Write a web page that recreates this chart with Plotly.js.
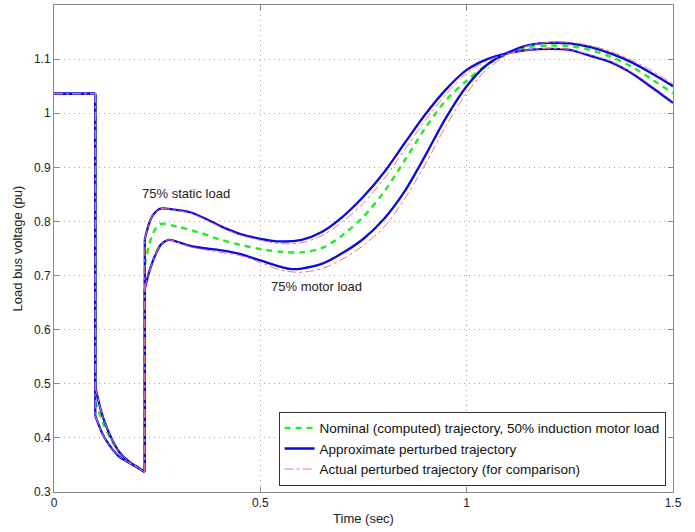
<!DOCTYPE html>
<html>
<head>
<meta charset="utf-8">
<script src="https://cdn.plot.ly/plotly-3.0.1.min.js"></script>
<style>html,body{margin:0;padding:0;background:#fff;}#chart{width:695px;height:532px;}</style>
</head>
<body>
<div id="chart"></div>
<script>
// Time points (sec)
const tNom = [0, 0.1, 0.1, 0.12, 0.14, 0.16, 0.18, 0.2, 0.22, 0.22, 0.23, 0.24, 0.257, 0.3, 0.35, 0.4, 0.45, 0.5, 0.55, 0.6, 0.65, 0.7, 0.75, 0.8, 0.85, 0.9, 0.95, 1.0, 1.05, 1.1, 1.15, 1.2, 1.25, 1.3, 1.35, 1.4, 1.45, 1.5];
const vNom = [1.036, 1.036, 0.468, 0.425, 0.395, 0.372, 0.358, 0.347, 0.337, 0.72, 0.755, 0.778, 0.795, 0.79, 0.78, 0.767, 0.757, 0.749, 0.744, 0.743, 0.751, 0.775, 0.809, 0.855, 0.913, 0.973, 1.024, 1.06, 1.09, 1.11, 1.122, 1.125, 1.124, 1.117, 1.104, 1.086, 1.062, 1.037];

const tStatic = [0, 0.1, 0.1, 0.11, 0.12, 0.14, 0.16, 0.18, 0.2, 0.22, 0.22, 0.23, 0.24, 0.255, 0.265, 0.3, 0.33, 0.37, 0.41, 0.45, 0.5, 0.55, 0.6, 0.65, 0.7, 0.75, 0.8, 0.85, 0.9, 0.95, 1.0, 1.05, 1.1, 1.15, 1.2, 1.25, 1.3, 1.35, 1.4, 1.45, 1.5];
const vStatic = [1.036, 1.036, 0.495, 0.462, 0.435, 0.398, 0.372, 0.357, 0.347, 0.337, 0.767, 0.795, 0.812, 0.823, 0.824, 0.821, 0.817, 0.804, 0.789, 0.777, 0.768, 0.763, 0.766, 0.781, 0.809, 0.846, 0.891, 0.945, 0.998, 1.044, 1.08, 1.1, 1.111, 1.117, 1.119, 1.117, 1.106, 1.094, 1.074, 1.047, 1.019];
const vStaticActual = [1.036, 1.036, 0.495, 0.462, 0.435, 0.398, 0.372, 0.357, 0.347, 0.337, 0.767, 0.795, 0.812, 0.823, 0.824, 0.82, 0.815, 0.802, 0.787, 0.775, 0.765, 0.759, 0.761, 0.774, 0.8, 0.834, 0.879, 0.933, 0.987, 1.035, 1.074, 1.097, 1.11, 1.117, 1.12, 1.118, 1.108, 1.096, 1.076, 1.05, 1.022];

const tMotor = [0, 0.1, 0.1, 0.116, 0.132, 0.157, 0.18, 0.2, 0.22, 0.22, 0.23, 0.245, 0.26, 0.278, 0.3, 0.33, 0.37, 0.41, 0.45, 0.5, 0.55, 0.575, 0.6, 0.65, 0.7, 0.75, 0.8, 0.85, 0.9, 0.95, 1.0, 1.05, 1.1, 1.15, 1.2, 1.25, 1.3, 1.35, 1.4, 1.45, 1.5];
const vMotor = [1.036, 1.036, 0.441, 0.41, 0.389, 0.366, 0.355, 0.346, 0.337, 0.675, 0.705, 0.737, 0.758, 0.766, 0.762, 0.755, 0.75, 0.746, 0.74, 0.728, 0.716, 0.712, 0.713, 0.722, 0.742, 0.768, 0.805, 0.856, 0.922, 0.992, 1.05, 1.09, 1.112, 1.126, 1.13, 1.129, 1.122, 1.11, 1.094, 1.073, 1.05];
const vMotorActual = [1.036, 1.036, 0.441, 0.41, 0.389, 0.366, 0.355, 0.346, 0.337, 0.675, 0.705, 0.737, 0.758, 0.766, 0.761, 0.753, 0.747, 0.742, 0.737, 0.724, 0.71, 0.707, 0.706, 0.713, 0.731, 0.756, 0.79, 0.842, 0.906, 0.977, 1.037, 1.082, 1.108, 1.125, 1.131, 1.131, 1.125, 1.114, 1.098, 1.078, 1.054];

const xTicks = [0, 0.5, 1, 1.5];
const xTickText = ["0", "0.5", "1", "1.5"];
const yTicks = [0.3, 0.4, 0.5, 0.6, 0.7, 0.8, 0.9, 1.0, 1.1];
const yTickText = ["0.3", "0.4", "0.5", "0.6", "0.7", "0.8", "0.9", "1", "1.1"];

const seriesNames = ["Nominal (computed) trajectory, 50% induction motor load", "Approximate perturbed trajectory", "Actual perturbed trajectory (for comparison)"];
const annoText = ["75% static load", "75% motor load"];
const annoX = [0.32, 0.635];
const annoY = [0.852, 0.68];

const green = "rgb(40,235,40)";
const blue = "rgb(10,10,225)";
const pink = "rgb(235,120,130)";
const font = "Liberation Sans, Arial, Helvetica, sans-serif";

// Split a series at its vertical jumps (repeated time values) so that the
// smooth parts are splined independently and the jumps stay straight.
function splitAtJumps(t, v) {
  const x = [], y = [];
  for (let i = 0; i < t.length; i++) {
    if (i > 0 && t[i] === t[i - 1]) {
      x.push(null); y.push(null);
      x.push(t[i - 1], t[i], null); y.push(v[i - 1], v[i], null);
    }
    x.push(t[i]); y.push(v[i]);
  }
  return {x, y};
}

function lineTrace(t, v, name, line, showlegend) {
  const s = splitAtJumps(t, v);
  return {x: s.x, y: s.y, mode: "lines", name, showlegend, connectgaps: false,
          line: Object.assign({shape: "spline", smoothing: 0.9}, line)};
}

const traces = [
  lineTrace(tNom, vNom, seriesNames[0], {color: green, width: 2.5, dash: "6px,5px"}, true),
  lineTrace(tStatic, vStatic, seriesNames[1], {color: blue, width: 2.3}, true),
  lineTrace(tMotor, vMotor, seriesNames[1], {color: blue, width: 2.3}, false),
  lineTrace(tStatic, vStaticActual, seriesNames[2], {color: pink, width: 1, dash: "dashdot"}, true),
  lineTrace(tMotor, vMotorActual, seriesNames[2], {color: pink, width: 1, dash: "dashdot"}, false)
];

const axisCommon = {
  showline: true, linecolor: "#888", linewidth: 1, mirror: "ticks",
  ticks: "inside", ticklen: 5, tickcolor: "#888",
  showgrid: true, gridcolor: "#a8a8a8", griddash: "1px,4px", gridwidth: 1,
  zeroline: false, tickfont: {family: font, size: 12, color: "#222"}
};

const layout = {
  width: 695, height: 532,
  margin: {l: 54, r: 22, t: 5, b: 40},
  paper_bgcolor: "#fff", plot_bgcolor: "#fff",
  showlegend: true,
  font: {family: font, color: "#222"},
  xaxis: Object.assign({}, axisCommon, {
    range: [0, 1.5], tickmode: "array", tickvals: xTicks, ticktext: xTickText,
    title: {text: "Time (sec)", font: {family: font, size: 13, color: "#222"}, standoff: 4}
  }),
  yaxis: Object.assign({}, axisCommon, {
    range: [0.3, 1.2], tickmode: "array", tickvals: yTicks, ticktext: yTickText,
    title: {text: "Load bus voltage (pu)", font: {family: font, size: 13, color: "#222"}, standoff: 8}
  }),
  legend: {
    x: 0.988, y: 0.013, xanchor: "right", yanchor: "bottom",
    bgcolor: "#fff", bordercolor: "#333", borderwidth: 1,
    font: {family: font, size: 13.5, color: "#111"},
    tracegroupgap: 0, itemwidth: 30
  },
  annotations: annoText.map((t, i) => ({
    x: annoX[i], y: annoY[i], xref: "x", yref: "y", text: t, showarrow: false,
    font: {family: font, size: 13, color: "#222"}
  }))
};

Plotly.newPlot("chart", traces, layout, {displayModeBar: false, staticPlot: true});
</script>
</body>
</html>
